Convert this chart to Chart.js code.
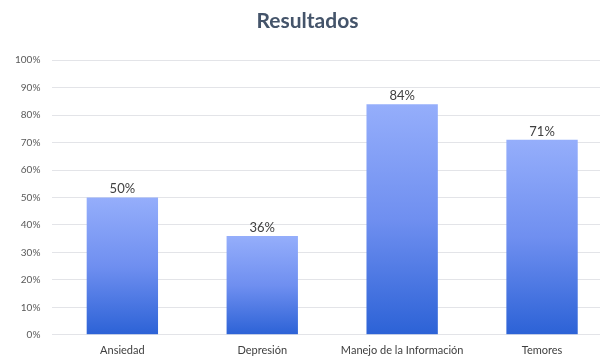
<!DOCTYPE html>
<html>
<head>
<meta charset="utf-8">
<script src="https://cdn.jsdelivr.net/npm/chart.js@4"></script>
<style>
	html, body { margin: 0; padding: 0; background: #fff; overflow: hidden; }
	#wrap { width: 612px; height: 358px; }
</style>
</head>
<body>
<div id="wrap"><canvas id="resultados-chart"></canvas></div>
<script>
// Chart data
const categories = ['Ansiedad', 'Depresión', 'Manejo de la Información', 'Temores'];
const values = [0.50, 0.36, 0.84, 0.71];
const yTicks = [0, 0.1, 0.2, 0.3, 0.4, 0.5, 0.6, 0.7, 0.8, 0.9, 1.0];

const FONT = 'Lato, "Open Sans", sans-serif';

// gradient per bar, light at the top and darker at the base
function barGradient(context) {
	const chart = context.chart;
	const yScale = chart.scales.y;
	if (!chart.chartArea || !yScale) return '#5b84e8';
	const top = yScale.getPixelForValue(values[context.dataIndex]);
	const bottom = yScale.getPixelForValue(0);
	const g = chart.ctx.createLinearGradient(0, top, 0, bottom);
	g.addColorStop(0, '#95aefb');
	g.addColorStop(0.5, '#6f8ff0');
	g.addColorStop(1, '#2c62d6');
	return g;
}

// Value labels above bars
const valueLabels = {
	id: 'valueLabels',
	afterDatasetsDraw(chart) {
		const ctx = chart.ctx;
		const meta = chart.getDatasetMeta(0);
		ctx.save();
		ctx.font = '13px ' + FONT;
		ctx.fillStyle = '#404040';
		ctx.textAlign = 'center';
		ctx.textBaseline = 'bottom';
		meta.data.forEach(function (bar, i) {
			ctx.fillText(Math.round(values[i] * 100) + '%', bar.x, bar.y - 2);
		});
		ctx.restore();
	}
};

document.addEventListener('DOMContentLoaded', function () {
	const ctx = document.getElementById('resultados-chart');
	new Chart(ctx, {
		type: 'bar',
		data: {
			labels: categories,
			datasets: [{
				data: values,
				backgroundColor: barGradient,
				borderWidth: 0,
				barPercentage: 0.51,
				categoryPercentage: 1
			}]
		},
		options: {
			responsive: true,
			maintainAspectRatio: false,
			animation: false,
			layout: { padding: { top: 3, left: 3, right: 0, bottom: 0 } },
			plugins: {
				legend: { display: false },
				tooltip: { enabled: false },
				title: {
					display: true,
					text: 'Resultados',
					color: '#44546a',
					font: { family: FONT, size: 21, weight: 'bold' },
					padding: { top: 6, bottom: 26 }
				}
			},
			scales: {
				x: {
					grid: { display: false },
					border: { display: false },
					ticks: {
						color: '#404040',
						font: { family: FONT, size: 11 },
						maxRotation: 0,
						padding: 1
					}
				},
				y: {
					min: 0,
					max: 1,
					afterBuildTicks: function (axis) {
						axis.ticks = yTicks.map(function (v) { return { value: v }; });
					},
					grid: { color: '#e3e4e8', lineWidth: 1, drawTicks: false },
					border: { display: false },
					ticks: {
						color: '#595959',
						font: { family: FONT, size: 10 },
						padding: 12,
						callback: function (v) { return Math.round(v * 100) + '%'; }
					}
				}
			}
		},
		plugins: [valueLabels]
	});
});
</script>
</body>
</html>
